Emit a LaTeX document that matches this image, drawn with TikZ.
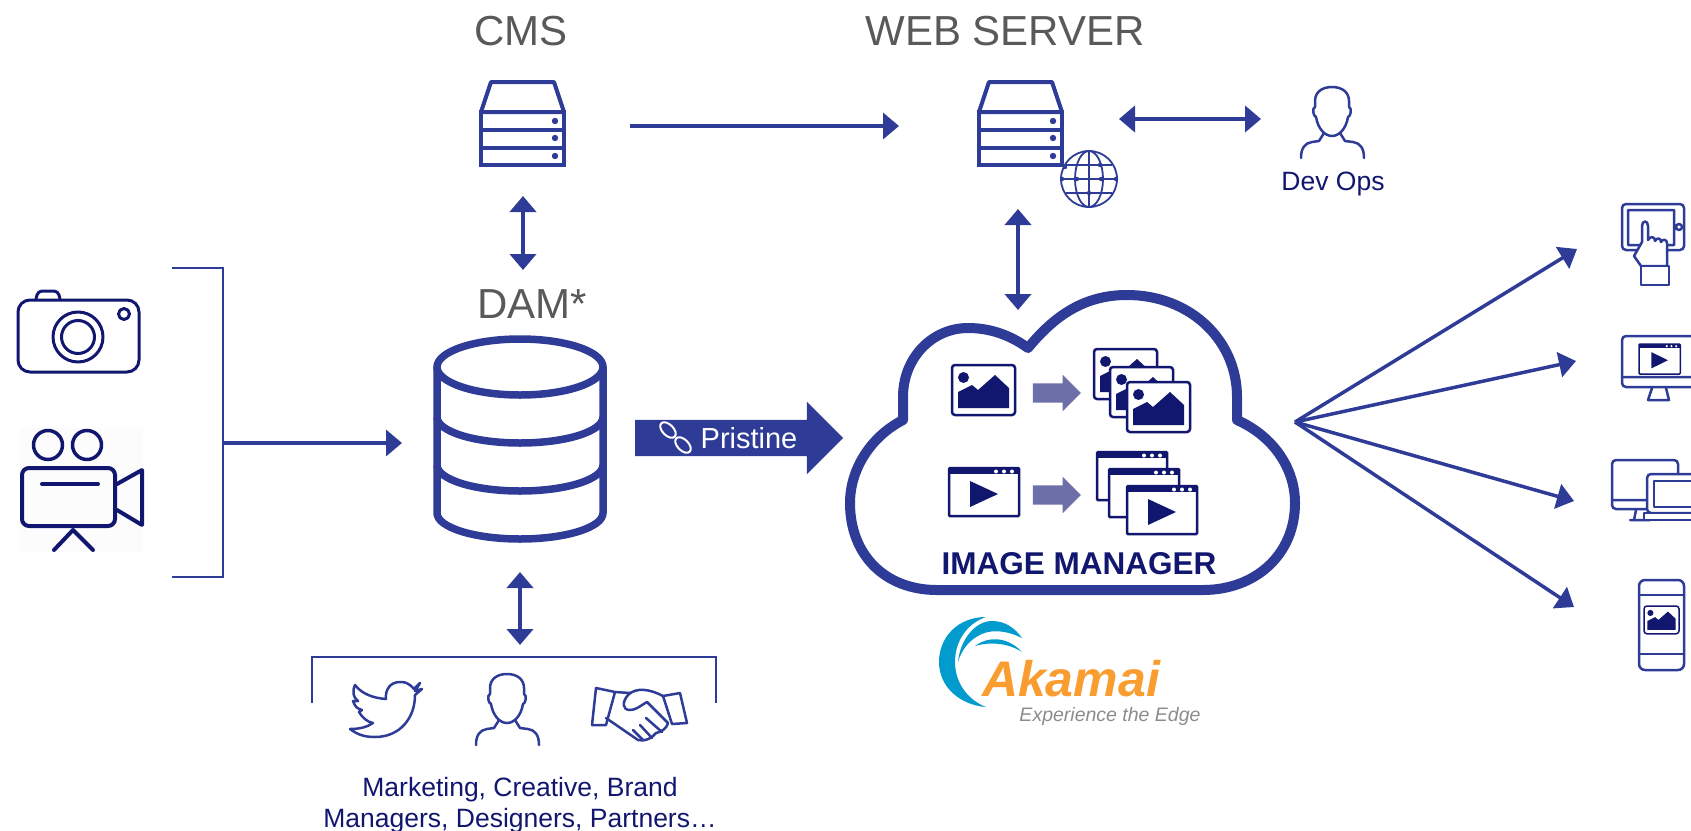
\documentclass[tikz,border=0pt]{standalone}
\usepackage{fontspec}
\setmainfont{Liberation Sans}
\usetikzlibrary{arrows.meta}
\usetikzlibrary{shapes.arrows}
\definecolor{imblue}{HTML}{2F3C97}
\definecolor{imnavy}{HTML}{11166F}
\definecolor{imgray}{HTML}{595959}
\definecolor{imlight}{HTML}{6D6FA8}
\definecolor{akblue}{HTML}{019CCD}
\definecolor{akorange}{HTML}{F99D31}
\definecolor{aktag}{HTML}{8C8C8C}
\tikzset{
  flow/.style={draw=imblue,line width=3.5pt,-{Triangle[length=16pt,width=26pt]}},
  flowboth/.style={draw=imblue,line width=4pt,{Triangle[length=16pt,width=26pt]}-{Triangle[length=16pt,width=26pt]}},
  fan/.style={draw=imblue,line width=3.5pt,-{Triangle[length=17pt,width=25pt]}},
  icon/.style={draw=imblue,line width=2.5pt,line join=round,line cap=round},
  cam/.style={draw=imnavy,line width=3pt,line join=round,line cap=round},
  head/.style={text=imgray,font=\fontsize{42}{42}\selectfont,anchor=base,inner sep=0pt},
  small/.style={text=imnavy,font=\fontsize{26.5}{31}\selectfont,inner sep=0pt,align=center},
  fatarrow/.style={single arrow,fill=imlight,inner sep=0pt,text height=19pt,text depth=0pt,minimum height=48pt,single arrow head extend=8.5pt},
  pics/server/.style={code={
    \draw[draw=imblue,line width=4pt,line join=round] (12,2) -- (75,2) -- (85,32) -- (2,32) -- cycle;
    \draw[draw=imblue,line width=4pt] (2,32) rectangle (85,85) (2,49.5) -- (85,49.5) (2,67.5) -- (85,67.5);
    \foreach\y in {41,58,76} \fill[imblue] (76,\y) circle (3.2pt);
  }},
  pics/person/.style={code={
    \draw[icon] (32,1) .. controls (21,1) and (15,7) .. (15,15) -- (15,21) .. controls (12,22) and (13,30) .. (16,31)
      .. controls (18,43) and (25,50) .. (32,50) .. controls (39,50) and (46,43) .. (48,31)
      .. controls (51,30) and (52,22) .. (49,21) -- (49,15) .. controls (49,7) and (43,1) .. (32,1) -- cycle;
    \draw[icon] (1,72) .. controls (1,62) and (5,57) .. (12,56) -- (19,55) -- (24,47);
    \draw[icon] (64,72) .. controls (64,62) and (60,57) .. (53,56) -- (45,55) -- (40,47);
  }},
  pics/photo/.style={code={
    \draw[draw=imnavy,fill=white,rounded corners=3pt] (0,0) rectangle (63,50);
    \fill[imnavy] (6,43) -- (6,27) -- (20,20) -- (26,25) -- (43,10) -- (57,23) -- (57,43) -- cycle;
    \fill[imnavy] (11.5,12.5) circle (5.5pt);
  }},
  pics/playerframe/.style={code={
    \draw[draw=imnavy,fill=white,rounded corners=1pt] (0,0) rectangle (70,48);
    \fill[imnavy] (0,0) rectangle (70,6);
    \foreach\x in {47,55,63} \fill[white] (\x,3.5) circle (2pt);
  }},
  pics/player/.style={code={
    \pic[transform shape] {playerframe};
    \fill[imnavy] (21,13) -- (21,39) -- (49,26) -- cycle;
  }},
}
\begin{document}
\begin{tikzpicture}[x=1pt,y=-1pt]
  \useasboundingbox (0,0) rectangle (1691,830);
  \clip (0,0) rectangle (1691,830);
  % free ends of the connectors
  \coordinate (cmsOut) at (630,126);
  \coordinate (webIn) at (899,126);
  \coordinate (webOut) at (1119,119);
  \coordinate (opsIn) at (1261,119);
  \coordinate (cmsDown) at (523,196);
  \coordinate (damUp) at (523,270);
  \coordinate (webDown) at (1018,209);
  \coordinate (cloudUp) at (1018,310);
  \coordinate (damDown) at (520,572);
  \coordinate (usersUp) at (520,645);
  \coordinate (srcOut) at (223,443);
  \coordinate (damIn) at (402,443);
  \coordinate (cloudOut) at (1295,422);
  \coordinate (tabletIn) at (1577,249);
  \coordinate (monitorIn) at (1576,361);
  \coordinate (desktopIn) at (1574,501);
  \coordinate (phoneIn) at (1574,607);

  % titles
  \node[head] (cmsLabel) at (521,45) {CMS};
  \node[head] (webLabel) at (1005,45) {WEB SERVER};
  \node[head] (damLabel) at (532,318) {DAM*};
  \node[small,font=\fontsize{26.5}{26.5}\selectfont] (opsLabel) at (1333,184) {Dev Ops};

  % servers
  \pic at (479,80) {server};
  \pic at (977,80) {server};
  \draw[flow] (cmsOut) -- (webIn);
  \draw[flowboth] (webOut) -- (opsIn);
  \draw[flowboth] (cmsDown) -- (damUp);
  \draw[flowboth] (webDown) -- (cloudUp);
  \pic at (1300,86) {person};

  % globe
  \draw[draw=imblue,line width=1.8pt,fill=white] (1089,179) circle (28pt);
  \draw[draw=imblue,line width=1.8pt] (1089,179) ellipse (14pt and 28pt) (1089,151) -- (1089,207)
    (1062,179) -- (1116,179) (1066,165) -- (1112,165) (1066,193) -- (1112,193);
  \foreach\x/\y in {1062/179,1077/179,1101/179,1116/179,1089/193,1100/165,1065/167} \fill[imblue] (\x,\y) circle (2.2pt);

  % camera
  \draw[cam,rounded corners=12pt] (18,300) rectangle (139,372);
  \draw[cam,rounded corners=4pt] (36,299) -- (38,291) -- (58,291) -- (60,299);
  \draw[cam] (78,337) circle (25pt) (78,337) circle (16.5pt) (124,314) circle (5.5pt);

  % video camera
  \fill[black!1] (20,428) rectangle (143,552);
  \draw[cam,line width=3.5pt] (48,445) circle (14.5pt) (87,445) circle (14.5pt);
  \draw[cam,line width=4pt,rounded corners=7pt] (22,468) rectangle (115,526);
  \draw[cam,line width=4pt] (42,484) -- (98,484);
  \draw[cam,line width=4pt] (117,484) -- (142,470) -- (142,525) -- (117,510);
  \draw[cam,line width=4pt] (54,550) -- (73,530) -- (93,550);

  % source bracket
  \draw[draw=imblue,line width=2pt] (172,268) -- (223,268) -- (223,577) -- (172,577);
  \draw[flow] (srcOut) -- (damIn);

  % database
  \draw[draw=imblue,line width=7.5pt] (520,367) ellipse (83pt and 28pt);
  \draw[draw=imblue,line width=7.5pt,line join=round] (437,367) -- (437,513) arc[start angle=180,end angle=360,x radius=83,y radius=-26] -- (603,367);
  \draw[draw=imblue,line width=7.5pt] (437,417) arc[start angle=180,end angle=360,x radius=83,y radius=-26];
  \draw[draw=imblue,line width=7.5pt] (437,465) arc[start angle=180,end angle=360,x radius=83,y radius=-26];

  % pristine arrow
  \node[single arrow,fill=imblue,inner sep=0pt,text height=36pt,text depth=0pt,minimum height=208pt,single arrow head extend=18pt] (pristineArrow) at (730,438) {};
  \draw[white,line width=2pt,rotate around={-45:(668,430)}] (668,430) ellipse (9.5pt and 5.5pt);
  \draw[white,line width=2pt,rotate around={-45:(683,445)}] (683,445) ellipse (9.5pt and 5.5pt);
  \node[text=white,font=\fontsize{29}{29}\selectfont,anchor=base,inner sep=0pt] (pristineLabel) at (749,448) {Pristine};

  % cloud
  \draw[draw=imblue,line width=10pt,line join=round,fill=white] (1028,348) .. controls (1055,315) and (1085,295) .. (1127,295)
    .. controls (1190,295) and (1237,340) .. (1237,397) -- (1237,420)
    .. controls (1275,437) and (1295,470) .. (1295,503)
    .. controls (1295,555) and (1255,590) .. (1203,590) -- (937,590)
    .. controls (885,590) and (850,555) .. (850,503)
    .. controls (850,470) and (870,437) .. (903,420) -- (903,397)
    .. controls (903,358) and (932,328) .. (968,328)
    .. controls (990,328) and (1010,335) .. (1028,348) -- cycle;
  \begin{scope}[line width=2.5pt]
    \pic at (952,365) {photo};
    \pic at (1094,349) {photo};
    \pic at (1110,367) {photo};
    \pic at (1127,382) {photo};
    \pic at (949,468) {player};
    \pic at (1097,452) {playerframe};
    \pic at (1109,469) {playerframe};
    \pic at (1127,486) {player};
  \end{scope}
  \node[fatarrow] (photoArrow) at (1052,393) {};
  \node[fatarrow] (videoArrow) at (1052,495) {};
  \node[text=imnavy,font=\bfseries\fontsize{31.5}{31.5}\selectfont,anchor=base,inner sep=0pt] (cloudLabel) at (1079,574) {IMAGE MANAGER};

  % logo
  \fill[akblue] (986,617) .. controls (958,617) and (939,637) .. (939,662) .. controls (939,687) and (960,705) .. (986,707)
    .. controls (968,700) and (955,683) .. (955,662) .. controls (955,640) and (968,623) .. (986,617) -- cycle;
  \fill[akblue] (958,662) .. controls (960,640) and (975,621) .. (992,621) .. controls (1005,621) and (1015,628) .. (1022,638)
    .. controls (1010,632) and (998,630) .. (988,632) .. controls (972,636) and (962,648) .. (958,662) -- cycle;
  \fill[akblue] (975,646) .. controls (985,638) and (1005,634) .. (1022,652) .. controls (1010,644) and (992,641) .. (975,646) -- cycle;
  \node[text=akorange,font=\bfseries\itshape\fontsize{50}{50}\selectfont,anchor=base,inner sep=0pt] (akLabel) at (1071,696) {Akamai};
  \node[text=aktag,font=\itshape\fontsize{19.5}{19.5}\selectfont,anchor=base,inner sep=0pt] (akTag) at (1110,721) {Experience the Edge};

  % users
  \draw[flowboth] (damDown) -- (usersUp);
  \draw[draw=imblue,line width=1.5pt] (312,703) -- (312,657) -- (716,657) -- (716,703);
  \draw[icon] (420,683) -- (414,689) .. controls (408,682) and (404,682) .. (400,682) .. controls (390,682) and (385,690) .. (386,699)
    .. controls (373,698) and (362,694) .. (355,685) .. controls (352,692) and (353,697) .. (358,701) -- (353,701)
    .. controls (355,707) and (358,709) .. (362,710) -- (359,712) .. controls (362,717) and (367,722) .. (373,723)
    .. controls (367,727) and (360,729) .. (350,729) .. controls (358,735) and (365,737) .. (375,737)
    .. controls (400,737) and (415,718) .. (415,695) -- (422,689) -- (415,691) -- cycle;
  \pic at (475,673) {person};
  \draw[icon] (596,688) -- (615,692) -- (606,725) -- (592,725) -- cycle;
  \draw[icon] (663,696) -- (680,693) -- (687,723) -- (672,724) -- cycle;
  \draw[icon] (615,692) -- (630,693);
  \draw[icon] (663,696) .. controls (650,689) and (636,687) .. (628,695) .. controls (622,702) and (622,710) .. (630,710)
    .. controls (636,710) and (640,706) .. (647,702) -- (668,723) .. controls (666,730) and (660,732) .. (656,733)
    .. controls (652,738) and (645,742) .. (638,740) -- (606,718);
  \draw[icon] (646,718) -- (662,732) (640,725) -- (652,738) (633,730) -- (643,740);
  \node[small] (usersLabel) at (520,805) {Marketing, Creative, Brand\\Managers, Designers, Partners…};

  % devices
  \draw[fan] (cloudOut) -- (tabletIn);
  \draw[fan] (cloudOut) -- (monitorIn);
  \draw[fan] (cloudOut) -- (desktopIn);
  \draw[fan] (cloudOut) -- (phoneIn);
  % tablet
  \draw[icon,rounded corners=4pt] (1622,204) rectangle (1684,250);
  \draw[icon] (1628,210) rectangle (1674,245) (1679,227) circle (3pt);
  \draw[icon,fill=white] (1641,266) -- (1634,256) -- (1642,242) -- (1642,226) .. controls (1642,220) and (1648,220) .. (1648,226) -- (1648,240)
    .. controls (1650,236) and (1655,236) .. (1655,241) .. controls (1657,237) and (1661,238) .. (1661,242)
    .. controls (1663,238) and (1667,240) .. (1667,243) -- (1667,266) -- cycle;
  \draw[icon,fill=white] (1641,266) rectangle (1669,285);
  % monitor
  \draw[icon,rounded corners=4pt] (1622,336) rectangle (1700,387);
  \draw[icon] (1622,377) -- (1700,377) (1652,388) -- (1648,400) -- (1669,400) -- (1666,388);
  \pic[line width=1.5pt,xscale=.59,yscale=.625] at (1639,344) {player};
  % desktop and laptop
  \draw[icon,rounded corners=4pt] (1612,460) rectangle (1678,509);
  \draw[icon] (1612,500) -- (1650,500) (1636,510) -- (1634,520) (1630,520) -- (1650,520);
  \draw[icon,fill=white,rounded corners=4pt] (1647,474) rectangle (1705,513);
  \draw[icon] (1654,481) rectangle (1705,507);
  \draw[icon,fill=white] (1644,513) -- (1705,513) -- (1705,520) -- (1644,520) -- cycle;
  % phone
  \draw[icon,rounded corners=6pt] (1639,580) rectangle (1684,670);
  \draw[icon] (1639,595) -- (1684,595) (1639,654) -- (1684,654);
  \pic[line width=1.5pt,scale=.556] at (1644,606) {photo};
\end{tikzpicture}
\end{document}
